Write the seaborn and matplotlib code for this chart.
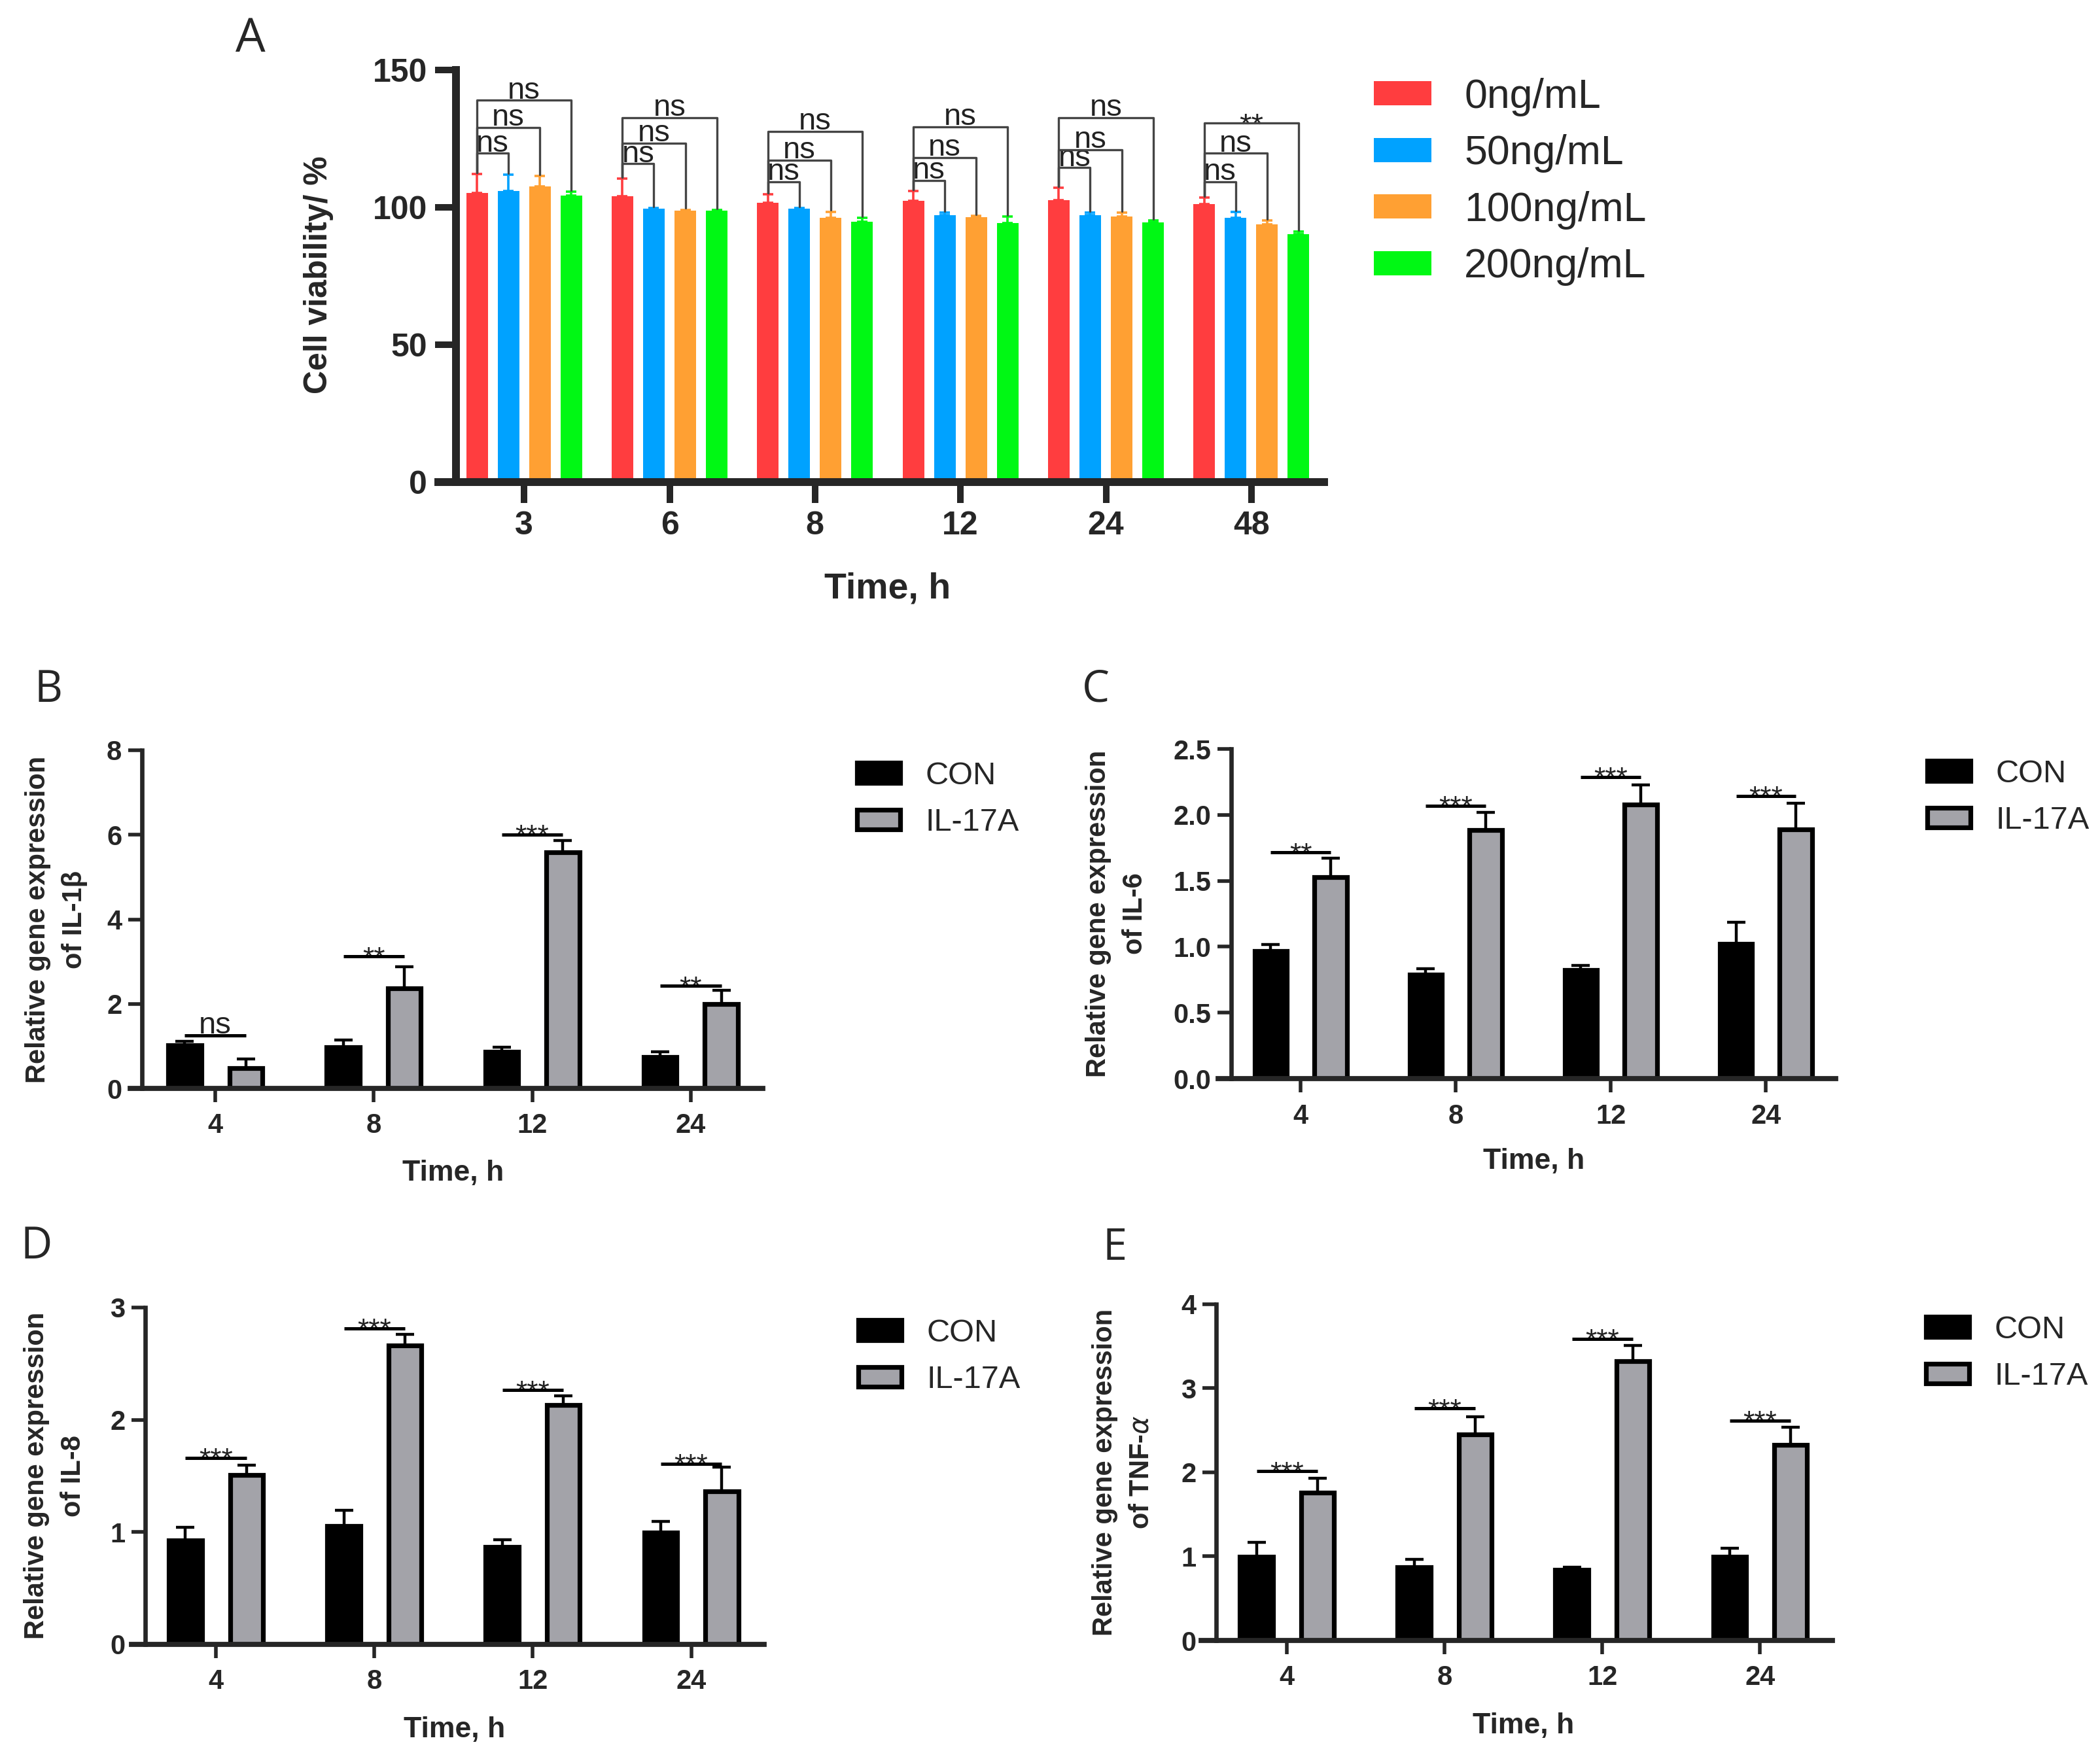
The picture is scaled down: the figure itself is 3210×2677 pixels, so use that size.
import numpy as np
import pandas as pd
import matplotlib
matplotlib.use('Agg')
import matplotlib.pyplot as plt
from matplotlib.patches import Patch
import seaborn as sns

# ---------------- data: panel A (cell viability, %) ----------------
times_a = ['3', '6', '8', '12', '24', '48']
doses = ['0ng/mL', '50ng/mL', '100ng/mL', '200ng/mL']
via_0 = [105.1, 103.9, 101.5, 102.3, 102.6, 101.1]
via_50 = [106.0, 99.5, 99.4, 97.0, 97.0, 96.2]
via_100 = [107.6, 98.7, 96.1, 96.3, 96.6, 93.8]
via_200 = [104.2, 98.7, 94.6, 94.3, 94.5, 90.2]
err_0 = [7.0, 6.6, 3.2, 3.6, 4.5, 2.5]
err_50 = [5.9, 0.3, 0.3, 1.1, 1.1, 2.1]
err_100 = [3.7, 0.4, 2.3, 0.5, 1.5, 1.4]
err_200 = [1.4, 0.3, 1.6, 2.3, 0.7, 0.9]
# bracket heights (0 vs 50, 0 vs 100, 0 vs 200) and their labels
br_low = [119.6, 115.8, 109.3, 109.8, 114.4, 109.3]
br_mid = [129.0, 123.3, 117.1, 118.1, 120.9, 119.6]
br_top = [138.9, 132.6, 127.5, 129.2, 132.6, 130.6]
sig_low = ['ns', 'ns', 'ns', 'ns', 'ns', 'ns']
sig_mid = ['ns', 'ns', 'ns', 'ns', 'ns', 'ns']
sig_top = ['ns', 'ns', 'ns', 'ns', 'ns', '**']

# ---------------- data: panels B-E (relative gene expression) ----------------
times_g = ['4', '8', '12', '24']
groups = ['CON', 'IL-17A']

il1b_con = [1.02, 0.98, 0.86, 0.75]
il1b_con_err = [0.09, 0.17, 0.12, 0.12]
il1b_il = [0.48, 2.36, 5.59, 1.99]
il1b_il_err = [0.21, 0.52, 0.28, 0.33]
il1b_line = [1.26, 3.12, 6.01, 2.43]
il1b_sig = ['ns', '**', '***', '**']

il6_con = [0.968, 0.788, 0.823, 1.024]
il6_con_err = [0.048, 0.045, 0.037, 0.161]
il6_il = [1.527, 1.884, 2.078, 1.890]
il6_il_err = [0.143, 0.136, 0.148, 0.200]
il6_line = [1.715, 2.07, 2.288, 2.145]
il6_sig = ['**', '***', '***', '***']

il8_con = [0.923, 1.055, 0.865, 0.994]
il8_con_err = [0.117, 0.139, 0.067, 0.098]
il8_il = [1.508, 2.660, 2.129, 1.363]
il8_il_err = [0.086, 0.103, 0.086, 0.215]
il8_line = [1.66, 2.815, 2.265, 1.609]
il8_sig = ['***', '***', '***', '***']

tnf_con = [0.996, 0.873, 0.840, 0.996]
tnf_con_err = [0.172, 0.094, 0.033, 0.102]
tnf_il = [1.754, 2.451, 3.320, 2.328]
tnf_il_err = [0.172, 0.205, 0.184, 0.205]
tnf_line = [2.01, 2.758, 3.586, 2.615]
tnf_sig = ['***', '***', '***', '***']

dose_colors = ['#FF3D3F', '#00A2FF', '#FFA033', '#00F814']
gray = '#A3A3A9'

sns.set_style('ticks')
plt.rcParams['font.family'] = ['Liberation Sans', 'DejaVu Sans']
plt.rcParams['mathtext.fontset'] = 'dejavusans'

W, H = 3210, 2677
fig = plt.figure(figsize=(W / 200, H / 200), dpi=200)


def px_rect(x0, y_top, x1, y_bot):
    return [x0 / W, 1 - y_bot / H, (x1 - x0) / W, (y_bot - y_top) / H]


def sig_text(ax, x, y, txt, fs):
    # stars sit on the line, 'ns' just above it
    off = 1.0 if txt == 'ns' else -0.36 * fs
    ax.annotate(txt, (x, y), xytext=(0, off), textcoords='offset points',
                ha='center', va='baseline', fontsize=fs, color='#222222')


# ======================= panel A =======================
axA = fig.add_axes(px_rect(670, 106.7, 2024, 737))
via = np.array([via_0, via_50, via_100, via_200])
err = np.array([err_0, err_50, err_100, err_200])
dfA = pd.DataFrame({
    'time': times_a * 4,
    'dose': [d for d in doses for _ in times_a],
    'value': via.ravel(),
})
sns.barplot(data=dfA, x='time', y='value', hue='dose', order=times_a, hue_order=doses,
            palette=dict(zip(doses, dose_colors)), saturation=1, width=0.864, gap=0.31,
            linewidth=0, errorbar=None, legend=False, ax=axA)

barsA = sorted(axA.patches, key=lambda p: p.get_x())
xA = np.array([p.get_x() + p.get_width() / 2 for p in barsA]).reshape(len(times_a), 4)
for j in range(4):
    axA.errorbar(xA[:, j], via[j], yerr=[np.zeros(len(times_a)), err[j]], fmt='none',
                 ecolor=dose_colors[j], elinewidth=1.3, capsize=3, capthick=1.3, zorder=3)

tops = (via + err).T
for i in range(len(times_a)):
    levels = [br_low[i], br_mid[i], br_top[i]]
    texts = [sig_low[i], sig_mid[i], sig_top[i]]
    for j in range(1, 4):
        yb = levels[j - 1]
        x0, x1 = xA[i, 0], xA[i, j]
        axA.plot([x0, x0, x1, x1], [tops[i, 0] + 0.5, yb, yb, tops[i, j] + 0.5],
                 color='#454545', lw=1.2, zorder=4)
        sig_text(axA, (x0 + x1) / 2, yb, texts[j - 1], 17)

sns.despine(ax=axA)
axA.spines['left'].set_position(('data', -0.468))
axA.set_xlim(-0.59, 5.5)
axA.set_ylim(0, 150)
for s in ['left', 'bottom']:
    axA.spines[s].set_linewidth(4.3)
axA.tick_params(width=3.6, length=11.5, pad=4.5, labelsize=18)
axA.set_yticks([0, 50, 100, 150])
axA.set_yticklabels(['0', '50', '100', '150'], fontweight='bold')
axA.set_xticks(range(len(times_a)))
axA.set_xticklabels(times_a, fontweight='bold')
axA.set_xlabel('Time, h', fontsize=20, fontweight='bold')
axA.set_ylabel('Cell viability/ %', fontsize=18, fontweight='bold')
axA.xaxis.set_label_coords(0.507, -0.26)
axA.xaxis.label.set_va('center')
axA.yaxis.set_label_coords(-0.135, 0.503)
axA.yaxis.label.set_va('center')

handlesA = [Patch(facecolor=c, edgecolor='none') for c in dose_colors]
axA.legend(handlesA, doses, loc='center left', bbox_to_anchor=(2100 / W, 1 - 278 / H),
           bbox_transform=fig.transFigure, frameon=False, borderpad=0, borderaxespad=0,
           fontsize=22.5, handlelength=1.41, handleheight=0.54, handletextpad=0.8,
           labelspacing=0.44)


# ======================= panels B-E =======================
def gene_panel(rect, con, con_err, il, il_err, line_y, sig, ylim, yticks, ytl,
               ylabel, xlim, spine_x, xlab_xy, ylab_x, leg_xy):
    ax = fig.add_axes(rect)
    df = pd.DataFrame({'time': times_g * 2,
                       'group': ['CON'] * 4 + ['IL-17A'] * 4,
                       'value': con + il})
    sns.barplot(data=df, x='time', y='value', hue='group', order=times_g, hue_order=groups,
                palette={'CON': 'black', 'IL-17A': gray}, saturation=1, width=0.772, gap=0.46,
                edgecolor='black', linewidth=2.6, errorbar=None, legend=False, ax=ax)
    bars = sorted(ax.patches, key=lambda p: p.get_x())
    xc = [p.get_x() + p.get_width() / 2 for p in bars]
    x_con, x_il = xc[0::2], xc[1::2]
    ax.errorbar(x_con, con, yerr=[np.zeros(4), con_err], fmt='none', ecolor='black',
                elinewidth=1.6, capsize=5, capthick=1.6, zorder=3)
    ax.errorbar(x_il, il, yerr=[np.zeros(4), il_err], fmt='none', ecolor='black',
                elinewidth=1.6, capsize=5, capthick=1.6, zorder=3)
    for i in range(4):
        ax.plot([x_con[i], x_il[i]], [line_y[i]] * 2, color='black', lw=1.8,
                solid_capstyle='butt', zorder=4)
        sig_text(ax, (x_con[i] + x_il[i]) / 2, line_y[i], sig[i], 17 if sig[i] == 'ns' else 16)

    sns.despine(ax=ax)
    ax.spines['left'].set_position(('data', spine_x))
    ax.set_xlim(*xlim)
    ax.set_ylim(*ylim)
    ax.spines['left'].set_linewidth(2.4)
    ax.spines['bottom'].set_linewidth(2.8)
    ax.tick_params(width=2.0, length=7.5, labelsize=15)
    ax.tick_params(axis='x', pad=6)
    ax.tick_params(axis='y', pad=3.5)
    ax.set_yticks(yticks)
    ax.set_yticklabels(ytl, fontweight='bold')
    ax.set_xticks(range(4))
    ax.set_xticklabels(times_g, fontweight='bold')
    ax.set_xlabel('Time, h', fontsize=16, fontweight='bold')
    ax.set_ylabel(ylabel, fontsize=15, fontweight='bold', linespacing=1.5,
                  multialignment='center')
    ax.xaxis.set_label_coords(xlab_xy[0], xlab_xy[1])
    ax.xaxis.label.set_va('center')
    ax.yaxis.set_label_coords(ylab_x, 0.5)
    ax.yaxis.label.set_va('center')

    handles = [Patch(facecolor='black', edgecolor='black', linewidth=2.6),
               Patch(facecolor=gray, edgecolor='black', linewidth=2.6)]
    ax.legend(handles, groups, loc='center left', bbox_to_anchor=leg_xy,
              bbox_transform=fig.transFigure, frameon=False, borderpad=0, borderaxespad=0,
              fontsize=17.5, handlelength=1.35, handleheight=0.58, handletextpad=0.8,
              labelspacing=0.55)
    return ax


gene_panel(px_rect(199, 1147, 1166, 1664), il1b_con, il1b_con_err, il1b_il, il1b_il_err,
           il1b_line, il1b_sig, (0, 8), [0, 2, 4, 6, 8], ['0', '2', '4', '6', '8'],
           'Relative gene expression\nof IL-1β', (-0.537, 3.455), -0.463,
           (0.51, -0.25), -0.117, (1310 / W, 1 - 1222 / H))

gene_panel(px_rect(1862, 1145, 2806, 1649), il6_con, il6_con_err, il6_il, il6_il_err,
           il6_line, il6_sig, (0, 2.5), [0, 0.5, 1.0, 1.5, 2.0, 2.5],
           ['0.0', '0.5', '1.0', '1.5', '2.0', '2.5'],
           'Relative gene expression\nof IL-6', (-0.532, 3.45), -0.447,
           (0.511, -0.25), -0.164, (2946 / W, 1 - 1219 / H))

gene_panel(px_rect(201, 1999, 1168, 2513.5), il8_con, il8_con_err, il8_il, il8_il_err,
           il8_line, il8_sig, (0, 3), [0, 1, 2, 3], ['0', '1', '2', '3'],
           'Relative gene expression\nof IL-8', (-0.533, 3.46), -0.446,
           (0.51, -0.254), -0.121, (1312 / W, 1 - 2074 / H))

gene_panel(px_rect(1836, 1993.5, 2801, 2508), tnf_con, tnf_con_err, tnf_il, tnf_il_err,
           tnf_line, tnf_sig, (0, 4), [0, 1, 2, 3, 4], ['0', '1', '2', '3', '4'],
           'Relative gene expression\nof TNF-$\\alpha$', (-0.544, 3.46), -0.448,
           (0.511, -0.253), -0.124, (2944 / W, 1 - 2069 / H))

# panel letters
for letter, (lx, ly), fs in [('A', (383, 60), 26), ('B', (74, 1055), 24), ('C', (1675, 1055), 24),
                             ('D', (56, 1906), 24), ('E', (1704, 1908), 24)]:
    fig.text(lx / W, 1 - ly / H, letter, fontsize=fs, family=['Open Sans', 'DejaVu Sans'],
             ha='center', va='center')

fig.savefig('out.png', dpi=200)
